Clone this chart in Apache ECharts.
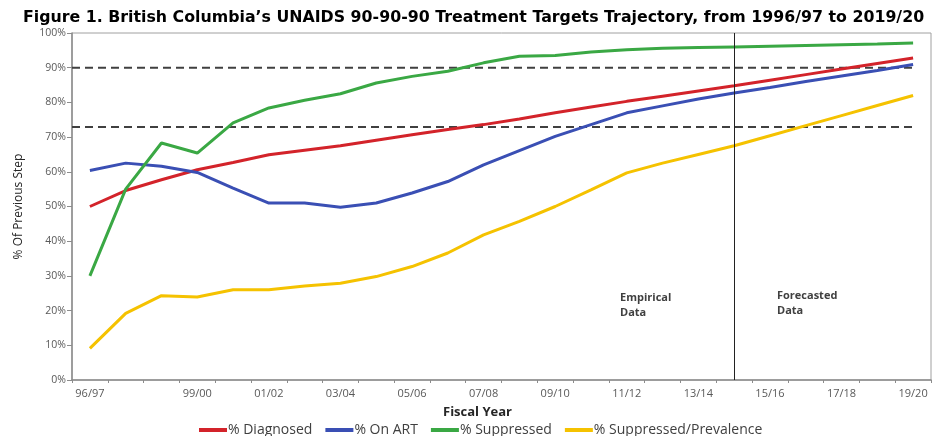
<!DOCTYPE html>
<html>
<head>
<meta charset="utf-8">
<script src="https://cdn.jsdelivr.net/npm/echarts@6/dist/echarts.min.js"></script>
<style>
  html, body { margin: 0; padding: 0; background: #fff; }
  #chart { width: 937px; height: 436px; }
</style>
</head>
<body>
<div id="chart"></div>
<script>
// fiscal years
const categories = ['96/97', '97/98', '98/99', '99/00', '00/01', '01/02', '02/03', '03/04',
  '04/05', '05/06', '06/07', '07/08', '08/09', '09/10', '10/11', '11/12', '12/13', '13/14',
  '14/15', '15/16', '16/17', '17/18', '18/19', '19/20'];

// % of previous step
const diagnosed = [50, 54.6, 57.7, 60.6, 62.7, 64.9, 66.2, 67.5, 69.1, 70.7, 72.2, 73.6,
  75.2, 77, 78.7, 80.3, 81.8, 83.3, 84.8, 86.4, 88, 89.6, 91.2, 92.8];
const onArt = [60.4, 62.5, 61.6, 59.8, 55.3, 51, 51, 49.8, 51, 53.9, 57.2, 62,
  66.1, 70.2, 73.6, 77, 79, 81, 82.7, 84.3, 86, 87.6, 89.2, 90.9];
const suppressed = [30, 55, 68.3, 65.4, 74.1, 78.4, 80.6, 82.5, 85.6, 87.5, 89, 91.4,
  93.3, 93.5, 94.5, 95.2, 95.6, 95.8, 96, 96.2, 96.4, 96.6, 96.8, 97.1];
const suppressedPrev = [9.1, 19.2, 24.3, 23.9, 26, 26, 27.1, 27.9, 29.8, 32.7, 36.6, 41.8,
  45.7, 50, 54.8, 59.7, 62.5, 65, 67.5, 70.4, 73.3, 76.2, 79.1, 82];

// 90 and 90x90x90 targets
const targetLevels = [90, 72.9];
const splitYear = '14/15';
const yTicks = [0, 100, 10];

const chart = echarts.init(document.getElementById('chart'));

const lineSeries = (name, data, color) => ({
  name: name,
  type: 'line',
  data: data,
  symbol: 'none',
  lineStyle: { color: color, width: 3 },
  itemStyle: { color: color },
  z: 3,
});

// dashed target lines run from the y axis to the last year
const targetSeries = targetLevels.map((v) => ({
  type: 'line',
  xAxisIndex: 1,
  data: [[-0.5, v], [categories.length - 1, v]],
  symbol: 'none',
  silent: true,
  lineStyle: { color: '#404040', width: 2, type: [8, 5] },
  z: 2,
}));

const series = [
  lineSeries('% Diagnosed', diagnosed, '#d3232a'),
  lineSeries('% On ART', onArt, '#3a4fb4'),
  lineSeries('% Suppressed', suppressed, '#3aa844'),
  lineSeries('% Suppressed/Prevalence', suppressedPrev, '#f5c200'),
  ...targetSeries,
];

// vertical split between empirical and forecasted
series[0].markLine = {
  silent: true,
  symbol: 'none',
  label: { show: false },
  lineStyle: { color: '#222', width: 1, type: 'solid' },
  data: [{ xAxis: splitYear }],
};

chart.setOption({
  animation: false,
  textStyle: { fontFamily: 'Open Sans, Liberation Sans, sans-serif' },
  title: {
    text: 'Figure 1. British Columbia\u2019s UNAIDS 90-90-90 Treatment Targets Trajectory, from 1996/97 to 2019/20',
    left: 18,
    top: 5,
    textStyle: { fontFamily: 'DejaVu Sans', fontSize: 15.8, fontWeight: 'bold', color: '#000' },
  },
  grid: {
    left: 72,
    right: 6,
    top: 33,
    bottom: 56,
    show: true,
    borderColor: '#a0a0a0',
    borderWidth: 1,
  },
  legend: {
    data: ['% Diagnosed', '% On ART', '% Suppressed', '% Suppressed/Prevalence'],
    left: 194,
    top: 418,
    icon: 'rect',
    itemWidth: 28,
    itemHeight: 4,
    itemGap: 13,
    textStyle: { fontSize: 14, color: '#404040', padding: [0, 0, 0, -4] },
  },
  graphic: [
    {
      type: 'text', left: 620, top: 290,
      style: { text: 'Empirical\nData', font: 'bold 11px Open Sans', fill: '#404040', lineHeight: 15 },
    },
    {
      type: 'text', left: 777, top: 288,
      style: { text: 'Forecasted\nData', font: 'bold 11px Open Sans', fill: '#404040', lineHeight: 15 },
    },
  ],
  xAxis: [
    {
      type: 'category',
      data: categories,
      boundaryGap: true,
      name: 'Fiscal Year',
      nameLocation: 'middle',
      nameGap: 26,
      nameTextStyle: { fontSize: 13, fontWeight: 'bold', color: '#262626', padding: [0, 48, 0, 0] },
      axisLine: { lineStyle: { color: '#8c8c8c', width: 1.5 } },
      axisTick: { show: true, interval: 0, length: 3, lineStyle: { color: '#8c8c8c' } },
      axisLabel: {
        interval: (i) => i === 0 || (i >= 3 && i % 2 === 1),
        fontSize: 11,
        color: '#595959',
        margin: 8,
      },
    },
    {
      type: 'value',
      min: -0.5,
      max: categories.length - 0.5,
      show: false,
    },
  ],
  yAxis: {
    type: 'value',
    min: yTicks[0],
    max: yTicks[1],
    interval: yTicks[2],
    name: '% Of Previous Step',
    nameLocation: 'middle',
    nameGap: 47,
    nameTextStyle: { fontSize: 12, color: '#262626' },
    axisLine: { show: true, onZero: false, lineStyle: { color: '#8c8c8c', width: 1.5 } },
    axisTick: { show: true, length: 5, lineStyle: { color: '#8c8c8c' } },
    splitLine: { show: false },
    axisLabel: { formatter: '{value}%', fontSize: 10.5, color: '#595959', margin: 6 },
  },
  series: series,
});
</script>
</body>
</html>
